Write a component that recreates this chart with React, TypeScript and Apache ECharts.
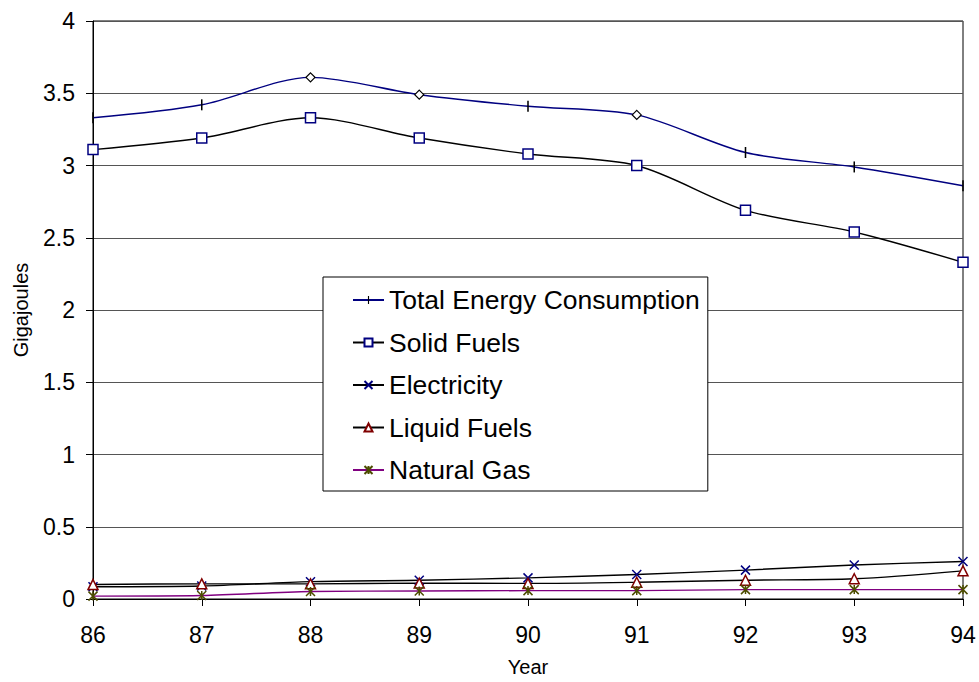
import React, { useEffect, useRef } from "react";
import * as echarts from "echarts";

const years = ["86", "87", "88", "89", "90", "91", "92", "93", "94"];
const totalEnergy = [3.33, 3.42, 3.61, 3.49, 3.41, 3.35, 3.09, 2.99, 2.86];
const diamondYears = ["88", "89", "91"];
const solidFuels = [3.11, 3.19, 3.33, 3.19, 3.08, 3.0, 2.69, 2.54, 2.33];
const electricity = [0.085, 0.09, 0.12, 0.13, 0.146, 0.17, 0.2, 0.235, 0.26];
const liquidFuels = [0.1, 0.105, 0.105, 0.11, 0.108, 0.116, 0.13, 0.14, 0.195];
const naturalGas = [0.02, 0.024, 0.052, 0.055, 0.058, 0.058, 0.065, 0.065, 0.065];
const seriesNames = ["Total Energy Consumption", "Solid Fuels", "Electricity", "Liquid Fuels", "Natural Gas"];

const FONT = "'Liberation Sans', Arial, sans-serif";
const TICK_SYMBOL = "path://M0,0L0,0M10,10L10,10M4.3,0L5.7,0L5.7,10L4.3,10Z";
const X_SYMBOL = "path://M0,0L10,10M10,0L0,10";
const STAR_SYMBOL = "path://M0,0L10,10M10,0L0,10M5,0L5,10";

export default function App() {
  const ref = useRef<HTMLDivElement>(null);
  useEffect(() => {
    if (!ref.current) return;
    const chart = echarts.init(ref.current, undefined, { renderer: "svg" });
    const totalData = totalEnergy.map((v, i) =>
      diamondYears.includes(years[i])
        ? {
            value: v,
            symbol: "diamond",
            symbolSize: 9,
            itemStyle: { color: "#ffffff", borderColor: "#000000", borderWidth: 1.2 },
          }
        : v
    );
    chart.setOption({
      animation: false,
      backgroundColor: "#ffffff",
      textStyle: { fontFamily: FONT },
      grid: {
        left: 93,
        right: 16,
        top: 21,
        bottom: 78,
        show: true,
        borderColor: "#000000",
        borderWidth: 1,
      },
      legend: {
        left: 323,
        top: 277,
        orient: "vertical",
        data: seriesNames,
        backgroundColor: "#ffffff",
        borderColor: "#000000",
        borderWidth: 1,
        padding: [8, 8, 6, 29],
        itemWidth: 31,
        itemHeight: 10,
        itemGap: 12.5,
        textStyle: { fontSize: 26.5, color: "#000000", fontFamily: FONT, lineHeight: 30 },
      },
      xAxis: {
        type: "category",
        data: years,
        boundaryGap: false,
        name: "Year",
        nameLocation: "middle",
        nameGap: 58,
        nameTextStyle: { fontSize: 20, color: "#000000", fontFamily: FONT },
        axisLine: { lineStyle: { color: "#000000", width: 1 } },
        axisTick: { show: true, length: 7, alignWithLabel: true, lineStyle: { color: "#000000" } },
        axisLabel: { fontSize: 23, color: "#000000", margin: 24, fontFamily: FONT },
        splitLine: { show: false },
      },
      yAxis: {
        type: "value",
        min: 0,
        max: 4,
        interval: 0.5,
        name: "Gigajoules",
        nameLocation: "middle",
        nameRotate: 90,
        nameGap: 62,
        nameTextStyle: { fontSize: 20, color: "#000000", fontFamily: FONT },
        axisLine: { show: true, lineStyle: { color: "#000000", width: 1 } },
        axisTick: { show: true, length: 7, lineStyle: { color: "#000000" } },
        axisLabel: { fontSize: 23, color: "#000000", margin: 18, fontFamily: FONT },
        splitLine: { show: true, lineStyle: { color: "#555555", width: 1 } },
      },
      series: [
        {
          name: seriesNames[0],
          type: "line",
          data: totalData,
          smooth: 0.3,
          symbol: TICK_SYMBOL,
          symbolSize: 11,
          showAllSymbol: true,
          lineStyle: { color: "#000080", width: 1.4 },
          itemStyle: { color: "#000000", borderWidth: 0 },
        },
        {
          name: seriesNames[1],
          type: "line",
          data: solidFuels,
          smooth: 0.3,
          symbol: "rect",
          symbolSize: 10,
          lineStyle: { color: "#000000", width: 1.4 },
          itemStyle: { color: "#ffffff", borderColor: "#000080", borderWidth: 1.5 },
        },
        {
          name: seriesNames[2],
          type: "line",
          data: electricity,
          smooth: 0.3,
          symbol: X_SYMBOL,
          symbolSize: 9,
          lineStyle: { color: "#000000", width: 1.4 },
          itemStyle: { color: "rgba(0,0,0,0)", borderColor: "#000080", borderWidth: 1.5 },
        },
        {
          name: seriesNames[3],
          type: "line",
          data: liquidFuels,
          smooth: 0.3,
          symbol: "triangle",
          symbolSize: 10,
          lineStyle: { color: "#000000", width: 1.4 },
          itemStyle: { color: "#ffffff", borderColor: "#800000", borderWidth: 1.5 },
        },
        {
          name: seriesNames[4],
          type: "line",
          data: naturalGas,
          smooth: 0.3,
          symbol: STAR_SYMBOL,
          symbolSize: 9,
          lineStyle: { color: "#800080", width: 1.4 },
          itemStyle: { color: "rgba(0,0,0,0)", borderColor: "#4d4d00", borderWidth: 1.5 },
        },
      ],
    });
    return () => chart.dispose();
  }, []);
  return <div ref={ref} style={{ width: 979, height: 682, position: "fixed", left: 0, top: 0 }} />;
}
